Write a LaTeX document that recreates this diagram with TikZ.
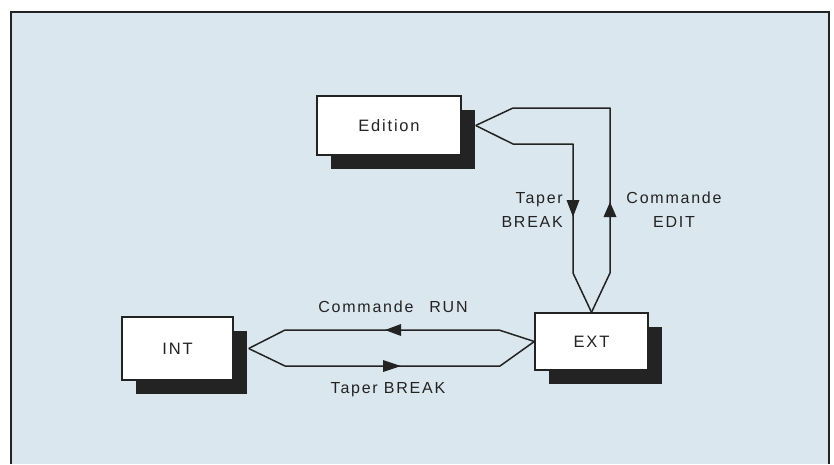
\documentclass[tikz,border=0pt]{standalone}
\usepackage{fontspec}
\setmainfont[LetterSpace=11]{Liberation Sans}
\usetikzlibrary{shadows}
\definecolor{bgc}{RGB}{219,231,238}
\definecolor{ink}{RGB}{35,35,35}
\begin{document}
\begin{tikzpicture}[x=1pt,y=-1pt,
  statebox/.style={draw=ink, fill=white, line width=1.4pt, inner sep=0pt,
    font=\fontsize{16.5}{19}\selectfont, text=ink,
    drop shadow={shadow xshift=14pt, shadow yshift=-14pt, fill=ink, opacity=1}},
  conn/.style={draw=ink, line width=1.5pt, line join=round},
  lbl/.style={font=\fontsize{16}{24}\selectfont, text=ink, inner sep=0pt},
  tipfill/.style={fill=ink}]
\useasboundingbox (0,0) rectangle (834,464);
\fill[bgc] (10.5,12) rectangle (829,464);
\draw[ink, line width=2pt] (10.5,464) -- (10.5,12) -- (829,12) -- (829,464);

\node[statebox, minimum width=144pt, minimum height=59pt] (ed) at (389,125.5) {Edition};
\node[statebox, minimum width=113pt, minimum height=57pt] (ext) at (591.5,341.5) {EXT};
\node[statebox, minimum width=111pt, minimum height=63pt] (int) at (177.5,348.5) {INT};

\coordinate (edA) at ([xshift=14pt]ed.east);
\coordinate (intA) at ([xshift=15pt]int.east);

% Edition <-> EXT
\draw[conn] (edA) -- (513,108) -- (610,108) -- (610,273) -- (ext.north);
\draw[conn] (edA) -- (513,144) -- (573,144) -- (573,273) -- (ext.north);
% INT <-> EXT
\draw[conn] (intA) -- (285,330) -- (499,330) -- (ext.west);
\draw[conn] (intA) -- (285,366) -- (500,366) -- (ext.west);

% arrowheads
\fill[tipfill] (566.5,200) -- (579.5,200) -- (573,217) -- cycle;
\fill[tipfill] (603.5,217) -- (616.5,217) -- (610,202) -- cycle;
\fill[tipfill] (401,324) -- (401,336) -- (385,330) -- cycle;
\fill[tipfill] (383,360) -- (383,372) -- (401,366) -- cycle;

% labels
\node[lbl, align=right, anchor=east] (l1) at (563,210) {Taper\\BREAK};
\node[lbl, align=center] (l2) at (674,210) {Commande\\EDIT};
\node[lbl] (l3) at (393,307) {Commande\hspace{16pt}RUN};
\node[lbl] (l4) at (388,390) {Taper BREAK};
\end{tikzpicture}
\end{document}
